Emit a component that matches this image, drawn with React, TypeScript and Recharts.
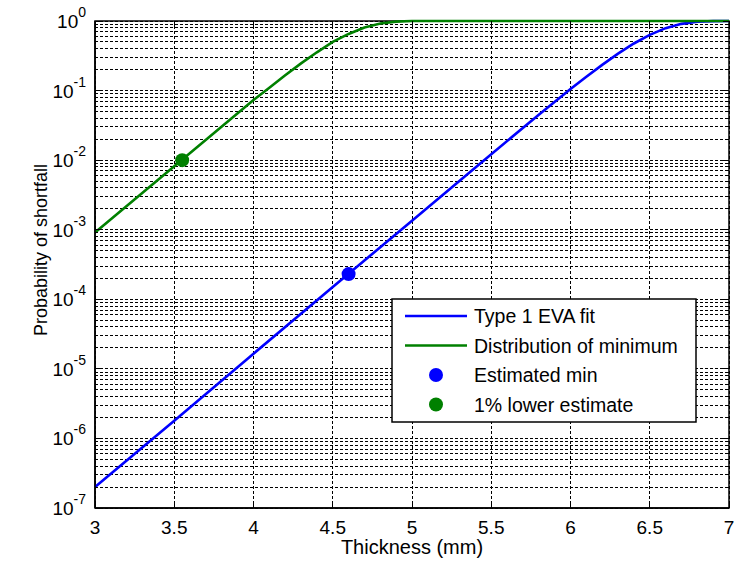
import {
    ComposedChart,
    Line,
    Scatter,
    XAxis,
    YAxis,
    CartesianGrid,
    Legend,
    ReferenceArea,
    Label,
} from 'recharts';

// Thickness (mm) and probability of shortfall
const fitThickness = [3.0, 3.5, 4.0, 4.5, 5.0, 5.5, 5.8, 6.0, 6.1, 6.2, 6.3, 6.4, 6.5, 6.6, 6.7, 6.8, 6.9, 7.0];
const fitProb = [2.0e-7, 1.8e-6, 1.65e-5, 1.5e-4, 1.35e-3, 0.0122, 0.0448, 0.105, 0.158, 0.234, 0.339, 0.475, 0.632, 0.789, 0.91, 0.977, 0.997, 1];

const minThickness = [3.0, 3.5, 4.0, 4.1, 4.2, 4.3, 4.4, 4.5, 4.6, 4.7, 4.8, 4.9, 5.0, 5.5, 6.0, 6.5, 7.0];
const minProb = [9.1e-4, 8.2e-3, 0.073, 0.11, 0.166, 0.246, 0.355, 0.5, 0.652, 0.805, 0.92, 0.98, 0.998, 1, 1, 1, 1];

const estimatedMin = [{ x: 4.6, p: 2.3e-4 }];
const lowerEstimate = [{ x: 3.55, p: 1.0e-2 }];

const xTicks = [3, 3.5, 4, 4.5, 5, 5.5, 6, 6.5, 7];
const decades = [1e-7, 1e-6, 1e-5, 1e-4, 1e-3, 1e-2, 1e-1, 1];
const minorSteps = [2, 3, 4, 5, 6, 7, 8, 9];

const yTicks: number[] = [];
decades.forEach((d, i) => {
    yTicks.push(d);
    if (i < decades.length - 1) minorSteps.forEach((m) => yTicks.push(m * d));
});

const fitData = fitThickness.map((x, i) => ({ x, p: fitProb[i] }));
const minData = minThickness.map((x, i) => ({ x, p: minProb[i] }));

const FONT = '"Liberation Sans", Arial, Helvetica, sans-serif';
const PLOT_TOP = 21;
const PLOT_RIGHT = 729;
const BLUE = '#0000ff';
const GREEN = '#008000';

const XTick = ({ x, y, payload }: any) => (
    <g shapeRendering="crispEdges">
        <line x1={x} x2={x} y1={y} y2={y - 6} stroke="#000" />
        <line x1={x} x2={x} y1={PLOT_TOP} y2={PLOT_TOP + 6} stroke="#000" />
        <text x={x} y={y + 26} textAnchor="middle" fontSize={19} fill="#000" fontFamily={FONT}>
            {payload.value}
        </text>
    </g>
);

const YTick = ({ x, y, payload }: any) => {
    const v = payload.value;
    const exp = Math.round(Math.log10(v));
    const major = Math.abs(v / Math.pow(10, exp) - 1) < 1e-6;
    const len = major ? 6 : 3;
    return (
        <g>
            <line x1={x} x2={x + len} y1={y} y2={y} stroke="#000" shapeRendering="crispEdges" />
            <line x1={PLOT_RIGHT} x2={PLOT_RIGHT - len} y1={y} y2={y} stroke="#000" shapeRendering="crispEdges" />
            {major && (
                <text x={x - 9} y={y + 7} textAnchor="end" fontSize={19} fill="#000" fontFamily={FONT}>
                    <tspan>10</tspan>
                    <tspan dy={-11} fontSize={14}>{exp}</tspan>
                </text>
            )}
        </g>
    );
};

const Dot = (color: string) => (props: any) =>
    <circle cx={props.cx} cy={props.cy} r={7} fill={color} />;

const LegendBox = () => {
    const rows = [
        { label: 'Type 1 EVA fit', color: BLUE, kind: 'line' },
        { label: 'Distribution of minimum', color: GREEN, kind: 'line' },
        { label: 'Estimated min', color: BLUE, kind: 'dot' },
        { label: '1% lower estimate', color: GREEN, kind: 'dot' },
    ];
    return (
        <svg width={306} height={125} style={{ display: 'block' }}>
            <rect x={1} y={1} width={304} height={123} fill="#fff" stroke="#000" strokeWidth={1.5} />
            {rows.map((r, i) => {
                const cy = 18 + i * 29.5;
                return (
                    <g key={r.label}>
                        {r.kind === 'line' ? (
                            <line x1={14} x2={76} y1={cy} y2={cy} stroke={r.color} strokeWidth={2.6} />
                        ) : (
                            <circle cx={45} cy={cy} r={7} fill={r.color} />
                        )}
                        <text x={83} y={cy + 7} fontSize={19.5} fill="#000" fontFamily={FONT}>
                            {r.label}
                        </text>
                    </g>
                );
            })}
        </svg>
    );
};

export default function App() {
    return (
        <div style={{ position: 'absolute', left: 0, top: 0, background: '#fff', fontFamily: FONT }}>
            <ComposedChart
                width={735}
                height={564}
                margin={{ top: PLOT_TOP, right: 735 - PLOT_RIGHT, bottom: 0, left: 0 }}
            >
                <CartesianGrid
                    stroke="#000"
                    strokeDasharray="3 2"
                    strokeWidth={1}
                    shapeRendering="crispEdges"
                />
                <XAxis
                    dataKey="x"
                    type="number"
                    domain={[3, 7]}
                    ticks={xTicks}
                    height={56}
                    tickSize={0}
                    tickMargin={0}
                    tickLine={false}
                    tick={<XTick />}
                    axisLine={{ stroke: '#000', strokeWidth: 1.5 }}
                    interval={0}
                >
                    <Label
                        value="Thickness (mm)"
                        position="insideBottom"
                        offset={10}
                        style={{ fontSize: 20, fill: '#000', fontFamily: FONT }}
                    />
                </XAxis>
                <YAxis
                    type="number"
                    scale="log"
                    domain={[1e-7, 1]}
                    ticks={yTicks}
                    width={95}
                    tickSize={0}
                    tickMargin={0}
                    tickLine={false}
                    tick={<YTick />}
                    axisLine={{ stroke: '#000', strokeWidth: 1.5 }}
                    interval={0}
                >
                    <Label
                        content={() => (
                            <text
                                x={47}
                                y={250}
                                transform="rotate(-90 47 250)"
                                textAnchor="middle"
                                fontSize={18}
                                fill="#000"
                                fontFamily={FONT}
                            >
                                Probability of shortfall
                            </text>
                        )}
                    />
                </YAxis>
                <ReferenceArea x1={3} x2={7} y1={1e-7} y2={1} fill="none" stroke="#000" strokeWidth={1.5} />
                <Line
                    data={fitData}
                    dataKey="p"
                    type="linear"
                    stroke={BLUE}
                    strokeWidth={2.6}
                    dot={false}
                    isAnimationActive={false}
                    name="Type 1 EVA fit"
                />
                <Line
                    data={minData}
                    dataKey="p"
                    type="linear"
                    stroke={GREEN}
                    strokeWidth={2.6}
                    dot={false}
                    isAnimationActive={false}
                    name="Distribution of minimum"
                />
                <Scatter
                    data={estimatedMin}
                    dataKey="p"
                    shape={Dot(BLUE)}
                    isAnimationActive={false}
                    name="Estimated min"
                />
                <Scatter
                    data={lowerEstimate}
                    dataKey="p"
                    shape={Dot(GREEN)}
                    isAnimationActive={false}
                    name="1% lower estimate"
                />
                <Legend
                    layout="horizontal"
                    align="center"
                    verticalAlign="middle"
                    content={<LegendBox />}
                    wrapperStyle={{ position: 'absolute', left: 391, top: 298, width: 306, height: 125 }}
                />
            </ComposedChart>
        </div>
    );
}
